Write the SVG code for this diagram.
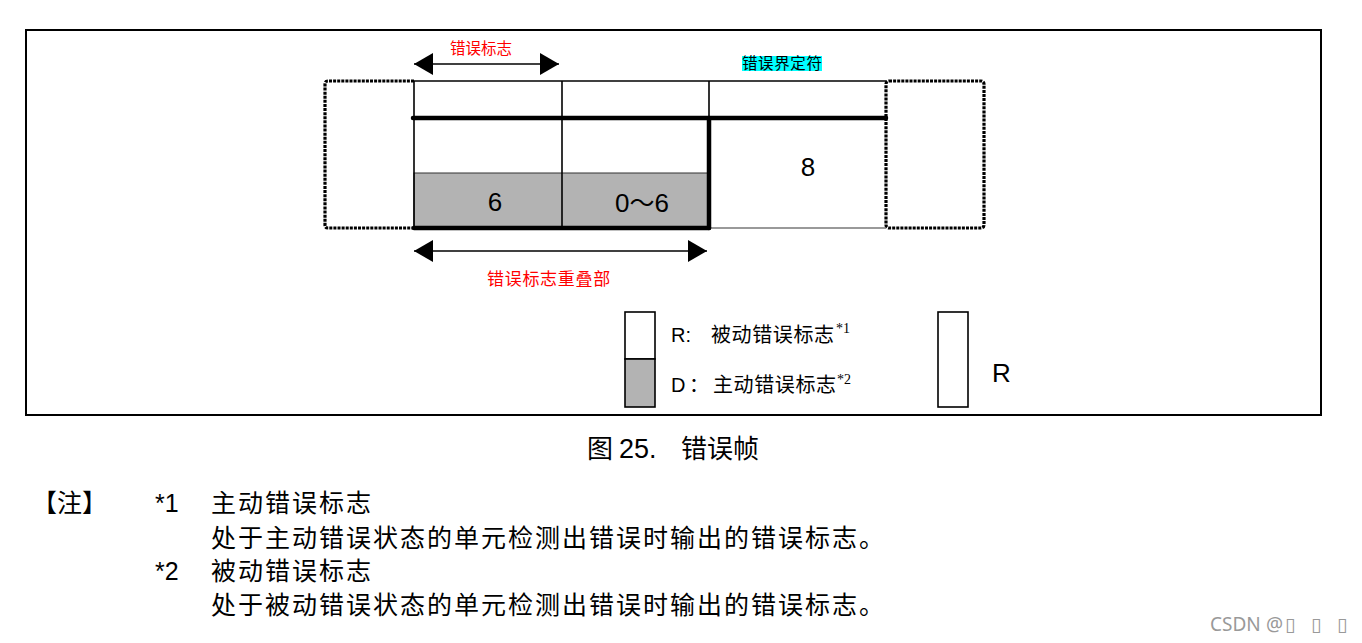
<svg xmlns="http://www.w3.org/2000/svg" width="1362" height="643" viewBox="0 0 1362 643">
<style>
.cjk{font-family:"Noto Sans CJK SC","Noto Sans",sans-serif}
.lat{font-family:"Liberation Sans",Arial,sans-serif}
.ser{font-family:"Liberation Serif","Times New Roman",serif}
.red{fill:#ff0000}
.thin{stroke:#000;stroke-width:1.6;fill:none}
.thick{stroke:#000;stroke-width:4.5;fill:none;stroke-linecap:round}
.dot{stroke:#000;stroke-width:3.2;fill:none;stroke-dasharray:3 1.1}
.arrow{stroke:#000;stroke-width:1.6;fill:none}
</style>
<defs>
<marker id="ah" markerUnits="userSpaceOnUse" markerWidth="19" markerHeight="22" refX="19" refY="11" orient="auto-start-reverse">
<path d="M0,0 L19,11 L0,22 z" fill="#000"/>
</marker>
</defs>
<rect width="1362" height="643" fill="#fff"/>
<g id="frame"><rect x="26" y="30" width="1295" height="385" fill="none" stroke="#000" stroke-width="2"/></g>

<g id="left-dotted"><path class="dot" d="M414,81 H328 Q325,81 325,84 V225 Q325,228 328,228 H414"/></g>
<g id="right-dotted"><rect class="dot" x="886" y="81" width="98" height="147" rx="3"/></g>

<g id="active-flag-cells">
<rect x="414" y="173" width="295" height="55" fill="#b3b3b3" stroke="#333" stroke-width="1"/>
<text class="lat" x="495" y="211" font-size="26" text-anchor="middle">6</text>
<text x="642" y="212" font-size="26" text-anchor="middle"><tspan class="lat">0</tspan><tspan class="cjk" font-size="25">～</tspan><tspan class="lat">6</tspan></text>
</g>

<g id="grid">
<line class="thin" x1="414" y1="81" x2="886" y2="81" stroke-width="2"/>
<line class="thin" x1="414" y1="81" x2="414" y2="228" stroke-width="2"/>
<line class="thin" x1="562" y1="81" x2="562" y2="228"/>
<line class="thin" x1="709" y1="81" x2="709" y2="118"/>
<line x1="709" y1="228" x2="886" y2="228" stroke="#777" stroke-width="1.6"/>
<line class="thick" x1="413" y1="118" x2="886" y2="118"/>
<line class="thick" x1="709" y1="118" x2="709" y2="228"/>
<line class="thick" x1="414" y1="228" x2="709" y2="228"/>
</g>

<g id="delimiter">
<text class="lat" x="808" y="176" font-size="26" text-anchor="middle">8</text>
<rect x="742" y="56" width="80" height="15" fill="#00ffff"/>
<text class="cjk" x="742" y="69" font-size="15.5" textLength="80">错误界定符</text>
</g>

<g id="connectors">
<line class="arrow" x1="414" y1="64" x2="559" y2="64" marker-start="url(#ah)" marker-end="url(#ah)"/>
<line class="arrow" x1="414" y1="251" x2="707" y2="251" marker-start="url(#ah)" marker-end="url(#ah)"/>
</g>

<g id="labels">
<text class="cjk red" x="450" y="54" font-size="15.5">错误标志</text>
<text class="cjk red" x="487" y="285" font-size="17" letter-spacing="0.7">错误标志重叠部</text>
</g>

<g id="legend">
<rect x="625" y="312" width="30" height="47" fill="#fff" stroke="#000" stroke-width="1.6"/>
<rect x="625" y="359" width="30" height="48" fill="#b3b3b3" stroke="#000" stroke-width="1.6"/>
<text x="671" y="342" font-size="20"><tspan class="lat">R:</tspan><tspan class="cjk" x="711" letter-spacing="0.6">被动错误标志</tspan><tspan class="ser" x="836" y="333" font-size="14">*1</tspan></text>
<text x="671" y="392" font-size="20"><tspan class="lat">D</tspan><tspan class="cjk" x="689">：</tspan><tspan class="cjk" x="713" letter-spacing="0.6">主动错误标志</tspan><tspan class="ser" x="837" y="384" font-size="14">*2</tspan></text>
</g>

<g id="recessive-box">
<rect x="938" y="312" width="30" height="95" fill="#fff" stroke="#000" stroke-width="1.6"/>
<text class="lat" x="992" y="382" font-size="26">R</text>
</g>

<g id="caption">
<text font-size="26" y="458"><tspan class="cjk" x="587">图</tspan><tspan class="lat" x="619" font-size="27">25.</tspan><tspan class="cjk" x="681">错误帧</tspan></text>
</g>

<g id="notes" font-size="25">
<text class="cjk" x="32" y="512">【注】</text>
<text class="lat" x="155" y="512">*1</text>
<text class="cjk" x="211" y="512" letter-spacing="2">主动错误标志</text>
<text class="cjk" x="211" y="547" letter-spacing="2">处于主动错误状态的单元检测出错误时输出的错误标志。</text>
<text class="lat" x="155" y="580">*2</text>
<text class="cjk" x="211" y="580" letter-spacing="2">被动错误标志</text>
<text class="cjk" x="211" y="614" letter-spacing="2">处于被动错误状态的单元检测出错误时输出的错误标志。</text>
</g>

<g id="watermark" fill="#999" font-size="19">
<text x="1210" y="631"><tspan font-family="Noto Sans, sans-serif">CSDN</tspan><tspan font-family="Noto Sans, sans-serif" x="1266">@</tspan><tspan font-family="DejaVu Sans, sans-serif" x="1285">▯</tspan><tspan font-family="DejaVu Sans, sans-serif" x="1311">▯</tspan><tspan font-family="DejaVu Sans, sans-serif" x="1337">▯</tspan></text>
</g>
</svg>
